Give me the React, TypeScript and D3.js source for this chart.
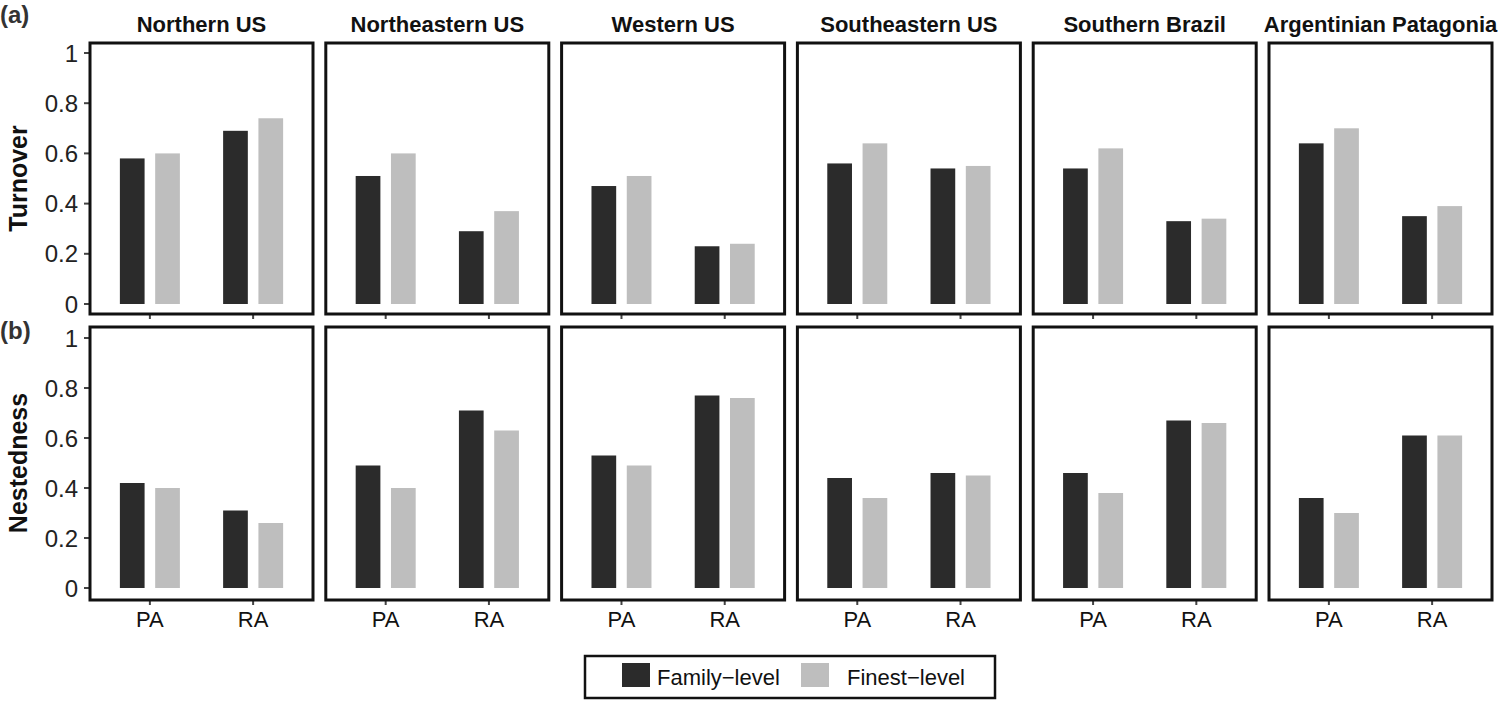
import * as d3 from "d3";

const regions = [
  "Northern US",
  "Northeastern US",
  "Western US",
  "Southeastern US",
  "Southern Brazil",
  "Argentinian Patagonia",
];
const groups = ["PA", "RA"];
const levels = ["Family-level", "Finest-level"];
const levelLabels = ["Family\u2212level", "Finest\u2212level"];
const yTicks = [0, 0.2, 0.4, 0.6, 0.8, 1];
const yTickLabels = ["0", "0.2", "0.4", "0.6", "0.8", "1"];

// [region][group][level]
const turnover = [
  [[0.58, 0.6], [0.69, 0.74]],
  [[0.51, 0.6], [0.29, 0.37]],
  [[0.47, 0.51], [0.23, 0.24]],
  [[0.56, 0.64], [0.54, 0.55]],
  [[0.54, 0.62], [0.33, 0.34]],
  [[0.64, 0.7], [0.35, 0.39]],
];
const nestedness = [
  [[0.42, 0.4], [0.31, 0.26]],
  [[0.49, 0.4], [0.71, 0.63]],
  [[0.53, 0.49], [0.77, 0.76]],
  [[0.44, 0.36], [0.46, 0.45]],
  [[0.46, 0.38], [0.67, 0.66]],
  [[0.36, 0.3], [0.61, 0.61]],
];

const colors = ["#2b2b2b", "#bebebe"];
const font = "Liberation Sans, Arial, sans-serif";

const W = 1500;
const H = 701;
const panelW = 223;
const panelX = d3
  .scaleLinear()
  .domain([0, regions.length - 1])
  .range([90, 1269]);

const rows = [
  { key: "a", label: "Turnover", data: turnover, top: 43, bottom: 314, y0: 304, y1: 53, tagY: 23 },
  { key: "b", label: "Nestedness", data: nestedness, top: 327, bottom: 600, y0: 588, y1: 338, tagY: 339 },
];

const xGroup = d3.scalePoint<string>().domain(groups).range([0, panelW]).padding(0.58);
const xLevel = d3.scaleBand<string>().domain(levels).range([-30, 30]).paddingInner(0.3);

export default function App() {
  return (
    <svg
      width={W}
      height={H}
      style={{ position: "absolute", left: 0, top: 0, background: "#fff" }}
      fontFamily={font}
    >
      {rows.map((row, ri) => {
        const y = d3.scaleLinear().domain([0, 1]).range([row.y0, row.y1]);
        return (
          <g key={row.key}>
            <text x={0} y={row.tagY} fontSize={24} fill="#333" fontWeight={600}>
              ({row.key})
            </text>
            <text
              transform={`translate(27,${(row.y0 + row.y1) / 2}) rotate(-90)`}
              textAnchor="middle"
              fontSize={25}
              fontWeight="bold"
              fill="#111"
            >
              {row.label}
            </text>
            {/* y axis only on the first panel */}
            {yTicks.map((t, i) => (
              <g key={t} transform={`translate(${panelX(0)},${y(t)})`}>
                <line x1={-6} x2={0} stroke="#444" strokeWidth={2} />
                <text x={-12} dy="0.36em" textAnchor="end" fontSize={24} fill="#222">
                  {yTickLabels[i]}
                </text>
              </g>
            ))}
            {regions.map((reg, pi) => {
              const px = panelX(pi);
              return (
                <g key={reg} transform={`translate(${px},0)`}>
                  {ri === 0 && (
                    <text
                      x={panelW / 2}
                      y={32}
                      textAnchor="middle"
                      fontSize={22}
                      fontWeight="bold"
                      fill="#111"
                    >
                      {reg}
                    </text>
                  )}
                  {groups.map((g, gi) => (
                    <g key={g} transform={`translate(${xGroup(g)},0)`}>
                      {levels.map((lv, li) => {
                        const v = row.data[pi][gi][li];
                        return (
                          <rect
                            key={lv}
                            x={xLevel(lv)}
                            y={y(v)}
                            width={xLevel.bandwidth()}
                            height={y(0) - y(v)}
                            fill={colors[li]}
                          />
                        );
                      })}
                      <line y1={row.bottom} y2={row.bottom + 5} stroke="#444" strokeWidth={2} />
                      {ri === 1 && (
                        <text
                          y={row.bottom + 27}
                          textAnchor="middle"
                          fontSize={22}
                          fill="#111"
                        >
                          {g}
                        </text>
                      )}
                    </g>
                  ))}
                  <rect
                    x={0}
                    y={row.top}
                    width={panelW}
                    height={row.bottom - row.top}
                    fill="none"
                    stroke="#111"
                    strokeWidth={3}
                  />
                </g>
              );
            })}
          </g>
        );
      })}
      {/* legend */}
      <g>
        <rect x={585} y={656} width={410} height={42} fill="none" stroke="#111" strokeWidth={2.5} />
        {levels.map((lv, i) => {
          const sx = i === 0 ? 622 : 801;
          const tx = i === 0 ? 657 : 847;
          return (
            <g key={lv}>
              <rect x={sx} y={663} width={28} height={24} fill={colors[i]} />
              <text x={tx} y={685} fontSize={22} fill="#111">
                {levelLabels[i]}
              </text>
            </g>
          );
        })}
      </g>
    </svg>
  );
}
